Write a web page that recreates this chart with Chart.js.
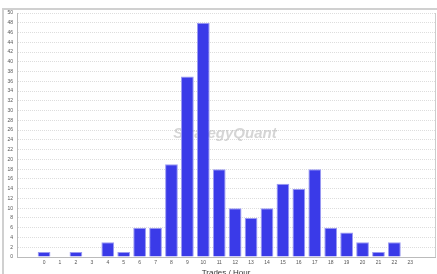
<!DOCTYPE html>
<html>
<head>
<meta charset="utf-8">
<script src="https://cdn.jsdelivr.net/npm/chart.js@4.4.1/dist/chart.umd.min.js"></script>
<style>
  html, body { margin: 0; padding: 0; background: #fff; }
  #wrap { width: 437px; height: 274px; }
</style>
</head>
<body>
<div id="wrap"><canvas id="chart" width="437" height="274"></canvas></div>
<script>
const hours = [0, 1, 2, 3, 4, 5, 6, 7, 8, 9, 10, 11, 12, 13, 14, 15, 16, 17, 18, 19, 20, 21, 22, 23];
const trades = [1, 0, 1, 0, 3, 1, 6, 6, 19, 37, 48, 18, 10, 8, 10, 15, 14, 18, 6, 5, 3, 1, 3, 0];
const yTicks = [0, 2, 4, 6, 8, 10, 12, 14, 16, 18, 20, 22, 24, 26, 28, 30, 32, 34, 36, 38, 40, 42, 44, 46, 48, 50];

// frame around the plot + watermark
const framePlugin = {
  id: 'frame',
  beforeDatasetsDraw(chart) {
    const ctx = chart.ctx;
    ctx.save();
    ctx.font = 'italic bold 15px "Liberation Sans", Arial, sans-serif';
    ctx.fillStyle = 'rgba(185,185,185,0.6)';
    ctx.textAlign = 'center';
    ctx.textBaseline = 'middle';
    ctx.fillText('StrategyQuant', 225, 134);
    ctx.restore();
  },
  afterDraw(chart) {
    const ctx = chart.ctx;
    const a = chart.chartArea;
    ctx.save();
    ctx.strokeStyle = '#d0d0d0';
    ctx.lineWidth = 2;
    ctx.beginPath();
    ctx.moveTo(3, 274);
    ctx.lineTo(3, 9);
    ctx.lineTo(437, 9);
    ctx.stroke();
    ctx.lineWidth = 1;
    ctx.strokeStyle = '#cccccc';
    ctx.beginPath();
    ctx.moveTo(a.right + 0.5, a.top);
    ctx.lineTo(a.right + 0.5, a.bottom);
    ctx.stroke();
    ctx.restore();
  }
};

new Chart(document.getElementById('chart'), {
  type: 'bar',
  data: {
    datasets: [{
      label: 'Trades',
      data: hours.map((h, i) => ({ x: h, y: trades[i] })),
      backgroundColor: '#3a3ae8',
      borderColor: '#9a9af2',
      borderWidth: 1,
      barPercentage: 0.8,
      categoryPercentage: 1.0
    }]
  },
  options: {
    responsive: false,
    animation: false,
    layout: { padding: { left: 4, top: 13, right: 2, bottom: 0 } },
    plugins: { legend: { display: false }, tooltip: { enabled: false } },
    scales: {
      x: {
        type: 'linear',
        offset: false,
        min: -1.7,
        max: 24.55,
        afterBuildTicks: scale => { scale.ticks = hours.map(v => ({ value: v })); },
        afterFit: scale => { scale.height = 17; },
        grid: { display: false, drawTicks: false },
        border: { color: '#bbbbbb' },
        ticks: { font: { size: 5, family: 'Liberation Sans' }, color: '#555', padding: 3, maxRotation: 0, autoSkip: false },
        title: { display: true, text: 'Trades / Hour', font: { size: 8, family: 'Liberation Sans' }, color: '#333', padding: { top: 0, bottom: -4 } }
      },
      y: {
        min: 0,
        max: 50,
        afterBuildTicks: scale => { scale.ticks = yTicks.map(v => ({ value: v })); },
        afterFit: scale => { scale.width = 13; },
        grid: { color: '#dddddd', drawTicks: false },
        border: { color: '#bbbbbb', dash: [1, 1] },
        ticks: { font: { size: 5, family: 'Liberation Sans' }, color: '#555', padding: 4 }
      }
    }
  },
  plugins: [framePlugin]
});
</script>
</body>
</html>
